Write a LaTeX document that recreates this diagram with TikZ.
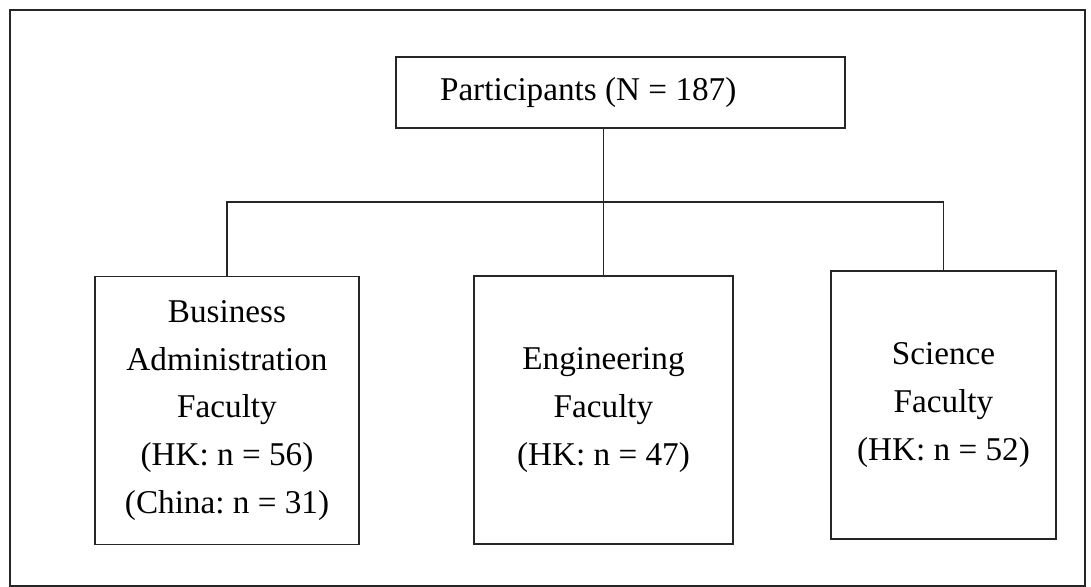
\documentclass[tikz,border=0pt]{standalone}
\usepackage{fontspec}
\setmainfont{Liberation Serif}
\usepackage{tikz}
\usetikzlibrary{positioning}
\frenchspacing

\begin{document}
\begin{tikzpicture}[x=0.02cm,y=-0.02cm,line width=1pt,draw=black!85]
    \tikzstyle{box}=[draw,rectangle,inner sep=0pt,align=center,font=\fontsize{18.9}{27.2}\selectfont]
    \tikzstyle{top box}=[box,minimum width=8.98cm,minimum height=1.42cm]
    \tikzstyle{faculty box}=[box,minimum height=5.36cm]

    \useasboundingbox (0,0) rectangle (1091,587);

    % Draw the outer frame
    \draw (10,10) rectangle (1085,586);

    % Draw the participants node
    \node[top box,inner xsep=0.88cm] (P) at (620.5,92.5)
        {\makebox[7.22cm][l]{Participants (N = 187)}};

    % Draw the faculty nodes
    \node[faculty box,minimum width=5.28cm] (B) at (227,410.5)
        {Business\\Administration\\Faculty\\(HK: n = 56)\\(China: n = 31)};
    \node[faculty box,minimum width=5.18cm] (E) at (603.5,410)
        {Engineering\\Faculty\\(HK: n = 47)};
    \node[faculty box,minimum width=4.5cm] (S) at (943.5,405)
        {Science\\Faculty\\(HK: n = 52)};

    % Connect the participants with every faculty
    \coordinate (bar) at (603.5,202);
    \draw (P.south -| E.north) -- (E.north);
    \draw (B.north) |- (bar) -| (S.north);

\end{tikzpicture}
\end{document}
